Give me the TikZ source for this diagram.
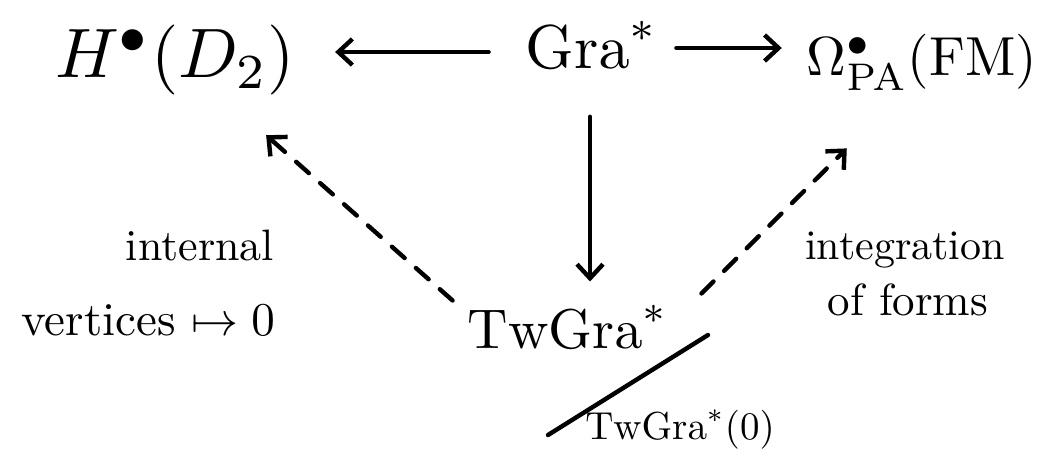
\documentclass[tikz,border=0pt]{standalone}
\usepackage{graphicx}
\usetikzlibrary{arrows.meta,calc}
\begin{document}
\begin{tikzpicture}[x=1pt,y={(0,-1pt)},
  ink/.style={line width=4.4pt,line cap=round,line join=round},
  arr/.style={ink,-{Straight Barb[length=14pt,width=26pt,line width=4.4pt]}},
  dasharr/.style={arr,dash pattern=on 17pt off 15pt},
  obj/.style={inner sep=0pt},
  lbl/.style={inner sep=0pt}]
\useasboundingbox (0,0) rectangle (1050,456);
\node[obj] (h) at (175,60) {\scalebox{7}{$H^\bullet(D_2)$}};
\node[obj] (gra) at (592,45) {\scalebox{6.2}{$\mathrm{Gra}^*$}};
\node[obj] (om) at (922,62) {\scalebox{5.5}{$\Omega^\bullet_{\mathrm{PA}}(\mathrm{FM})$}};
\node[obj] (tw) at (568,327) {\scalebox{5.6}{$\mathrm{TwGra}^*$}};
\node[lbl] (l1) at (200,245) {\scalebox{4.4}{internal}};
\node[lbl] (l2) at (148,320) {\scalebox{4.7}{vertices $\mapsto 0$}};
\node[lbl] (r1) at (905,250) {\scalebox{4.2}{integration}};
\node[lbl] (r2) at (908,300) {\scalebox{4.5}{of forms}};
\node[lbl] (sub) at (680,430) {\scalebox{3.9}{$\mathrm{TwGra}^*(0)$}};
\coordinate (s1) at (548,435);
\coordinate (s2) at (708,335);
\draw[arr] ($(gra.west)+(-37,7)$) coordinate (ga) -- ($(ga -| h.east)+(40,0)$);
\draw[arr] ($(gra.east)+(18,3)$) coordinate (gb) -- ($(gb -| om.west)+(-25,0)$);
\draw[arr] ($(gra.south)+(-2,48)$) -- ($(gra.south |- tw.north)+(-2,-24)$);
\draw[dasharr] ($(tw.north west)+(-15,-5)$) -- ($(h.south east)+(-29,40)$);
\draw[dasharr] ($(tw.north east)+(33,-12)$) -- ($(om.south west)+(40,58)$);
\draw[ink] (s1) -- (s2);
\end{tikzpicture}
\end{document}
